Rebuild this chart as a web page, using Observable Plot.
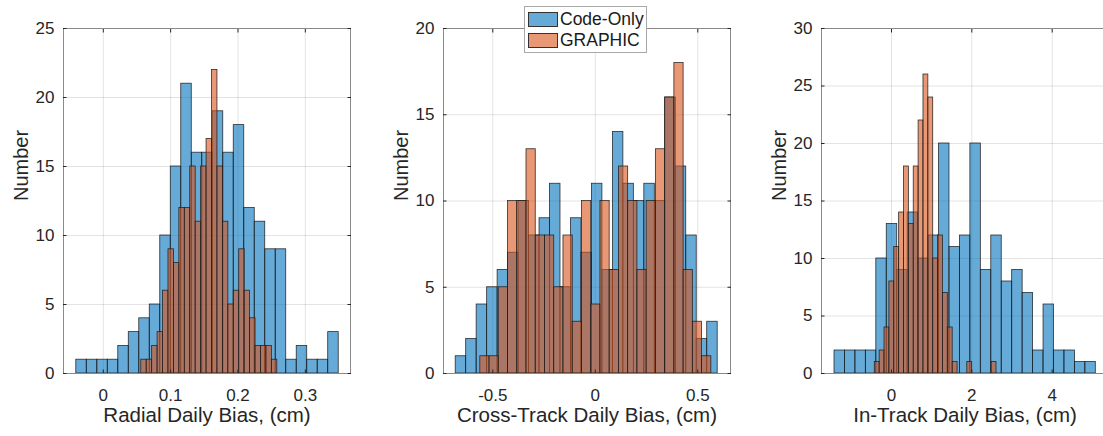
<!DOCTYPE html>
<html>
<head>
<meta charset="utf-8">
<script src="https://cdn.jsdelivr.net/npm/d3@7"></script>
<script src="https://cdn.jsdelivr.net/npm/@observablehq/plot@0.6"></script>
<style>
html, body { margin: 0; padding: 0; background: #fff; overflow: hidden; }
#fig { position: relative; width: 1103px; height: 436px; overflow: hidden; font-family: "Liberation Sans", Arial, sans-serif; }
.panel { position: absolute; top: 0; }
#legend { position: absolute; left: 524px; top: 6px; width: 123px; height: 47px; background: #fff; border: 1px solid #a8a8a8; box-sizing: border-box; font-size: 17.5px; color: #1a1a1a; }
#legend .row { position: absolute; left: 3px; height: 16px; display: flex; align-items: center; }
#legend .sw { width: 30px; height: 15px; border: 1px solid #333; box-sizing: border-box; margin-right: 2px; }
</style>
</head>
<body>
<div id="fig"></div>
<script>
// ---- data: histogram counts (25 bins each) ----
const seriesNames = ["Code-Only", "GRAPHIC"];
const xLabels = ["Radial Daily Bias, (cm)", "Cross-Track Daily Bias, (cm)", "In-Track Daily Bias, (cm)"];

// Radial
const radialCodeOnly = [1,1,1,1,2,3,4,5,10,15,21,16,16,19,16,18,12,11,9,9,1,2,1,1,3];
const radialGraphic  = [1,1,2,3,6,9,8,12,12,15,11,15,17,22,15,11,5,6,9,6,4,2,2,2,1];
const radialCodeOnlyEdges = [-0.0401, 0.3496];
const radialGraphicEdges  = [0.0564, 0.2584];
const radialXTicks = [0, 0.1, 0.2, 0.3];
const radialXTickLabels = ["0", "0.1", "0.2", "0.3"];
const radialYTicks = [0, 5, 10, 15, 20, 25];

// Cross-Track
const crossCodeOnly = [1,2,4,5,6,7,10,8,9,11,5,9,7,11,6,14,11,10,11,10,16,12,8,2,3];
const crossGraphic  = [1,1,5,10,10,13,8,8,5,8,3,10,4,10,6,12,10,6,10,13,16,18,6,3,1];
const crossCodeOnlyEdges = [-0.681, 0.597];
const crossGraphicEdges  = [-0.561, 0.566];
const crossXTicks = [-0.5, 0, 0.5];
const crossXTickLabels = ["-0.5", "0", "0.5"];
const crossYTicks = [0, 5, 10, 15, 20];

// In-Track
const inTrackCodeOnly = [2,2,2,2,10,13,9,14,10,12,20,11,12,20,9,12,8,9,7,2,6,2,2,1,1];
const inTrackGraphic  = [1,2,4,8,11,14,18,13,18,22,26,24,10,12,7,4,1,0,0,1,0,0,0,0,1];
const inTrackCodeOnlyEdges = [-1.419, 5.086];
const inTrackGraphicEdges  = [-0.416, 2.614];
const inTrackXTicks = [0, 2, 4];
const inTrackXTickLabels = ["0", "2", "4"];
const inTrackYTicks = [0, 5, 10, 15, 20, 25, 30];

// ---- build ----
const BLUE = "#0072BD", ORANGE = "#D95319";
const FRAME_W = 287, ML = 60, MR = 12, MT = 28, MB = 63, H = 436;
const FONT = '"Liberation Sans", Arial, sans-serif';

function bins(counts, [lo, hi]) {
  const w = (hi - lo) / counts.length;
  return counts.map((c, i) => ({x1: lo + i * w, x2: lo + (i + 1) * w, y: c})).filter(d => d.y > 0);
}

function panel({frameLeft, xDomain, xTicks, xTickLabels, yTicks, label, a, aEdges, b, bEdges}) {
  const fmt = d => xTickLabels[xTicks.indexOf(d)];
  const none = () => null;
  const barStyle = {stroke: "#1c1c1c", strokeWidth: 0.8, strokeOpacity: 0.9, fillOpacity: 0.6};
  const tickStyle = {tickSize: -3.5, tickFormat: none, label: null, stroke: "#262626"};
  const chart = Plot.plot({
    width: ML + FRAME_W + MR, height: H,
    marginLeft: ML, marginRight: MR, marginTop: MT, marginBottom: MB,
    style: {fontFamily: FONT, fontSize: "17px", color: "#262626", background: "transparent", overflow: "visible"},
    x: {domain: xDomain},
    y: {domain: [0, yTicks[yTicks.length - 1]]},
    marks: [
      Plot.gridX(xTicks, {stroke: "#000", strokeOpacity: 0.11}),
      Plot.gridY(yTicks, {stroke: "#000", strokeOpacity: 0.11}),
      Plot.rectY(bins(a, aEdges), {x1: "x1", x2: "x2", y: "y", fill: BLUE, ...barStyle}),
      Plot.rectY(bins(b, bEdges), {x1: "x1", x2: "x2", y: "y", fill: ORANGE, ...barStyle}),
      Plot.axisX(xTicks, {anchor: "bottom", tickSize: 0, tickPadding: 15, tickFormat: fmt, fontSize: 17, label: null}),
      Plot.axisY(yTicks, {anchor: "left", tickSize: 0, tickPadding: 9, fontSize: 17, label: null}),
      Plot.text([label], {frameAnchor: "bottom", dy: 48, fontSize: 20.5, fill: "#262626"}),
      Plot.text(["Number"], {frameAnchor: "left", dx: -42, rotate: -90, fontSize: 20, fill: "#262626"}),
      Plot.frame({stroke: "#8a8a8a", strokeWidth: 1}),
      Plot.axisX(xTicks, {anchor: "bottom", ...tickStyle}),
      Plot.axisX(xTicks, {anchor: "top", ...tickStyle}),
      Plot.axisY(yTicks, {anchor: "left", ...tickStyle}),
      Plot.axisY(yTicks, {anchor: "right", ...tickStyle})
    ]
  });
  chart.classList.add("panel");
  chart.style.left = (frameLeft - ML) + "px";
  return chart;
}

const fig = document.getElementById("fig");
fig.append(
  panel({frameLeft: 62.5, xDomain: [-0.0591, 0.3671], xTicks: radialXTicks, xTickLabels: radialXTickLabels, yTicks: radialYTicks,
         label: xLabels[0], a: radialCodeOnly, aEdges: radialCodeOnlyEdges, b: radialGraphic, bEdges: radialGraphicEdges}),
  panel({frameLeft: 442.5, xDomain: [-0.7405, 0.6595], xTicks: crossXTicks, xTickLabels: crossXTickLabels, yTicks: crossYTicks,
         label: xLabels[1], a: crossCodeOnly, aEdges: crossCodeOnlyEdges, b: crossGraphic, bEdges: crossGraphicEdges}),
  panel({frameLeft: 821, xDomain: [-1.7426, 5.402], xTicks: inTrackXTicks, xTickLabels: inTrackXTickLabels, yTicks: inTrackYTicks,
         label: xLabels[2], a: inTrackCodeOnly, aEdges: inTrackCodeOnlyEdges, b: inTrackGraphic, bEdges: inTrackGraphicEdges})
);

// legend (HTML overlay, like MATLAB's legend box)
const legend = document.createElement("div");
legend.id = "legend";
const swColors = ["rgba(0,114,189,0.6)", "rgba(217,83,25,0.6)"];
seriesNames.forEach((name, i) => {
  const row = document.createElement("div");
  row.className = "row";
  row.style.top = (4 + i * 21) + "px";
  const sw = document.createElement("div");
  sw.className = "sw";
  sw.style.background = swColors[i];
  const t = document.createElement("span");
  t.textContent = name;
  row.append(sw, t);
  legend.append(row);
});
fig.append(legend);
</script>
</body>
</html>
